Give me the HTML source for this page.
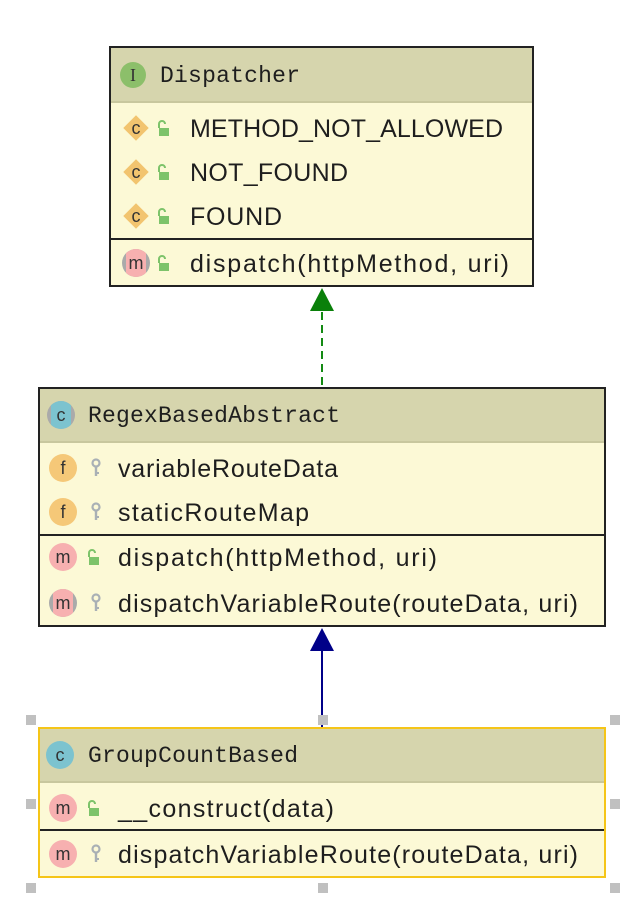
<!DOCTYPE html>
<html><head><meta charset="utf-8"><style>
html,body{margin:0;padding:0;background:#fff;}
svg{display:block}
.t{font-family:"Liberation Sans",sans-serif;font-size:25px;fill:#1e1e1e}
.h{font-family:"Liberation Mono",monospace;font-size:23px;fill:#1e1e1e}
.i{font-family:"Liberation Sans",sans-serif;font-size:18px;fill:#333;text-anchor:middle}
</style></head><body>
<svg width="638" height="908" viewBox="0 0 638 908" xmlns="http://www.w3.org/2000/svg">
<defs>
<g id="lock"><rect x="-4" y="-1" width="10" height="8" fill="#7dc36a"/><path d="M-4,-1 V-5 a3,3 0 0 1 6,0" fill="none" stroke="#7dc36a" stroke-width="2"/></g>
<g id="key"><circle cx="0" cy="-4" r="3.5" fill="none" stroke="#a9b0b5" stroke-width="2.2"/><rect x="-1.2" y="-1" width="2.4" height="10" fill="#a9b0b5"/><rect x="0" y="5" width="3" height="2" fill="#a9b0b5"/></g>
<clipPath id="c1"><rect x="126" y="240" width="20" height="40"/></clipPath>
<clipPath id="c2"><rect x="51" y="395" width="20" height="40"/></clipPath>
<clipPath id="c3"><rect x="53" y="585" width="20" height="40"/></clipPath>
</defs>

<!-- Box 1 -->
<rect x="110" y="47" width="423" height="239" fill="#fcf9d6" stroke="#222" stroke-width="2"/>
<rect x="111" y="48" width="421" height="54" fill="#d6d5ad"/>
<line x1="111" y1="102" x2="532" y2="102" stroke="#c8c79e" stroke-width="2"/>
<circle cx="133" cy="75" r="13" fill="#8cbf6a"/><text class="i" x="133" y="81" style="font-family:'Liberation Serif',serif">I</text>
<text class="h" x="160" y="82" textLength="140">Dispatcher</text>
<rect x="127" y="119" width="18" height="18" fill="#f2c46f" transform="rotate(45 136 128)"/><text class="i" x="136" y="134">c</text>
<use href="#lock" x="163" y="129"/><text class="t" x="190" y="137" textLength="313">METHOD_NOT_ALLOWED</text>
<rect x="127" y="163" width="18" height="18" fill="#f2c46f" transform="rotate(45 136 172)"/><text class="i" x="136" y="178">c</text>
<use href="#lock" x="163" y="173"/><text class="t" x="190" y="181" textLength="158">NOT_FOUND</text>
<rect x="127" y="207" width="18" height="18" fill="#f2c46f" transform="rotate(45 136 216)"/><text class="i" x="136" y="222">c</text>
<use href="#lock" x="163" y="217"/><text class="t" x="190" y="225" textLength="92">FOUND</text>
<line x1="111" y1="239" x2="532" y2="239" stroke="#222" stroke-width="2"/>
<circle cx="136" cy="263" r="14" fill="#aaa"/><circle cx="136" cy="263" r="14" fill="#f7b0b0" clip-path="url(#c1)"/>
<text class="i" x="136" y="269">m</text>
<use href="#lock" x="163" y="264"/><text class="t" x="190" y="272" textLength="319">dispatch(httpMethod, uri)</text>

<line x1="322" y1="385" x2="322" y2="310" stroke="#138a13" stroke-width="2" stroke-dasharray="8,5"/>
<polygon points="322,288 310,311 334,311" fill="#0a800a"/>

<!-- Box 2 -->
<rect x="39" y="388" width="566" height="238" fill="#fcf9d6" stroke="#222" stroke-width="2"/>
<rect x="40" y="389" width="564" height="53" fill="#d6d5ad"/>
<line x1="40" y1="442" x2="604" y2="442" stroke="#c8c79e" stroke-width="2"/>
<circle cx="61" cy="415" r="14" fill="#aaa"/><circle cx="61" cy="415" r="14" fill="#7cc3cf" clip-path="url(#c2)"/><text class="i" x="61" y="421">c</text>
<text class="h" x="88" y="422" textLength="252">RegexBasedAbstract</text>
<circle cx="63" cy="468" r="14" fill="#f5c878"/><text class="i" x="63" y="474">f</text>
<use href="#key" x="96" y="467"/><text class="t" x="118" y="477" textLength="220">variableRouteData</text>
<circle cx="63" cy="512" r="14" fill="#f5c878"/><text class="i" x="63" y="518">f</text>
<use href="#key" x="96" y="511"/><text class="t" x="118" y="521" textLength="191">staticRouteMap</text>
<line x1="40" y1="535" x2="604" y2="535" stroke="#222" stroke-width="2"/>
<circle cx="63" cy="557" r="14" fill="#f7b0b0"/><text class="i" x="63" y="563">m</text>
<use href="#lock" x="93" y="558"/><text class="t" x="118" y="566" textLength="319">dispatch(httpMethod, uri)</text>
<circle cx="63" cy="603" r="14" fill="#aaa"/><circle cx="63" cy="603" r="14" fill="#f7b0b0" clip-path="url(#c3)"/><text class="i" x="63" y="609">m</text>
<use href="#key" x="96" y="602"/><text class="t" x="118" y="612" textLength="460">dispatchVariableRoute(routeData, uri)</text>

<line x1="322" y1="727" x2="322" y2="650" stroke="#000088" stroke-width="2"/>
<polygon points="322,628 310,651 334,651" fill="#000088"/>

<!-- Box 3 -->
<rect x="39" y="728" width="566" height="149" fill="#fcf9d6" stroke="#f5c518" stroke-width="2"/>
<rect x="40" y="729" width="564" height="53" fill="#d6d5ad"/>
<line x1="40" y1="782" x2="604" y2="782" stroke="#c8c79e" stroke-width="2"/>
<circle cx="60" cy="755" r="14" fill="#7cc3cf"/><text class="i" x="60" y="761">c</text>
<text class="h" x="88" y="762" textLength="210">GroupCountBased</text>
<circle cx="63" cy="808" r="14" fill="#f7b0b0"/><text class="i" x="63" y="814">m</text>
<use href="#lock" x="93" y="809"/><text class="t" x="118" y="817" textLength="216">__construct(data)</text>
<line x1="40" y1="830" x2="604" y2="830" stroke="#222" stroke-width="2"/>
<circle cx="63" cy="854" r="14" fill="#f7b0b0"/><text class="i" x="63" y="860">m</text>
<use href="#key" x="96" y="853"/><text class="t" x="118" y="863" textLength="460">dispatchVariableRoute(routeData, uri)</text>

<g fill="#c0c0c0">
<rect x="26" y="715" width="10" height="10"/><rect x="318" y="715" width="10" height="10"/><rect x="610" y="715" width="10" height="10"/>
<rect x="26" y="799" width="10" height="10"/><rect x="610" y="799" width="10" height="10"/>
<rect x="26" y="883" width="10" height="10"/><rect x="318" y="883" width="10" height="10"/><rect x="610" y="883" width="10" height="10"/>
</g>
</svg>
</body></html>
